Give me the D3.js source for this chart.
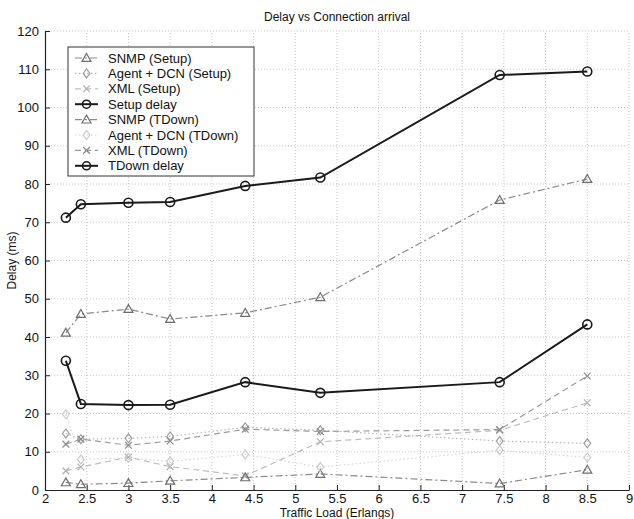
<!DOCTYPE html>
<html>
<head>
<meta charset="utf-8">
<script src="https://cdn.jsdelivr.net/npm/d3@7"></script>
<style>
  body { margin: 0; background: #fff; }
  text { font-family: "Liberation Sans", Arial, sans-serif; fill: #111; }
</style>
</head>
<body>
<svg width="634" height="519"></svg>
<script>
const svg = d3.select("svg");

// data
const loads = [2.25, 2.43, 3, 3.5, 4.4, 5.3, 7.45, 8.5];
const snmpSetup = [41.1, 46.0, 47.3, 44.7, 46.3, 50.4, 75.8, 81.3];
const agentSetup = [14.8, 13.3, 13.5, 14.0, 16.4, 15.6, 12.8, 12.2];
const xmlSetup = [5.0, 6.0, 8.6, 6.1, 3.7, 12.6, 15.6, 22.8];
const setupDelay = [71.2, 74.7, 75.1, 75.3, 79.5, 81.7, 108.5, 109.4];
const snmpTDown = [2.0, 1.5, 1.8, 2.4, 3.3, 4.2, 1.7, 5.3];
const agentTDown = [19.8, 8.0, 8.4, 7.5, 9.3, 6.0, 10.4, 8.5];
const xmlTDown = [12.0, 13.3, 11.7, 12.8, 15.9, 15.3, 15.8, 29.8];
const tdownDelay = [33.8, 22.5, 22.2, 22.3, 28.2, 25.4, 28.2, 43.3];

const xTicks = [2, 2.5, 3, 3.5, 4, 4.5, 5, 5.5, 6, 6.5, 7, 7.5, 8, 8.5, 9];
const yTicks = [0, 10, 20, 30, 40, 50, 60, 70, 80, 90, 100, 110, 120];

const series = [
  { name: "SNMP (Setup)", values: snmpSetup, color: "#8a8a8a", mcolor: "#6e6e6e", dash: "7,3,2,3", width: 1.2, marker: "triangle" },
  { name: "Agent + DCN (Setup)", values: agentSetup, color: "#b8b8b8", mcolor: "#a0a0a0", dash: "1.5,2.5", width: 1.2, marker: "diamond" },
  { name: "XML (Setup)", values: xmlSetup, color: "#bdbdbd", mcolor: "#b0b0b0", dash: "6,4", width: 1.2, marker: "x" },
  { name: "Setup delay", values: setupDelay, color: "#1a1a1a", mcolor: "#1a1a1a", dash: null, width: 2, marker: "circle" },
  { name: "SNMP (TDown)", values: snmpTDown, color: "#8a8a8a", mcolor: "#6e6e6e", dash: "7,3,2,3", width: 1.2, marker: "triangle" },
  { name: "Agent + DCN (TDown)", values: agentTDown, color: "#d6d6d6", mcolor: "#cccccc", dash: "1.5,2.5", width: 1.2, marker: "diamond" },
  { name: "XML (TDown)", values: xmlTDown, color: "#9a9a9a", mcolor: "#8a8a8a", dash: "6,4", width: 1.2, marker: "x" },
  { name: "TDown delay", values: tdownDelay, color: "#1a1a1a", mcolor: "#1a1a1a", dash: null, width: 2, marker: "circle" }
];

const x = d3.scaleLinear().domain([2, 9]).range([45, 629]);
const y = d3.scaleLinear().domain([0, 120]).range([490, 31]);

// grid
const grid = svg.append("g").attr("stroke", "#c8c8c8").attr("stroke-dasharray", "1,2").attr("stroke-width", 1);
grid.selectAll(".gx").data(xTicks.slice(1)).join("line")
  .attr("x1", d => x(d)).attr("x2", d => x(d)).attr("y1", y(0)).attr("y2", y(120));
grid.selectAll(".gy").data(yTicks.slice(1)).join("line")
  .attr("x1", x(2)).attr("x2", x(9)).attr("y1", d => y(d)).attr("y2", d => y(d));

// axes (ticks inside)
const xAxis = svg.append("g").attr("transform", `translate(0,${y(0)})`)
  .call(d3.axisBottom(x).tickValues(xTicks).tickSizeInner(-5).tickSizeOuter(0).tickPadding(4).tickFormat(d3.format("")));
const yAxis = svg.append("g").attr("transform", `translate(${x(2)},0)`)
  .call(d3.axisLeft(y).tickValues(yTicks).tickSizeInner(-5).tickSizeOuter(0).tickPadding(6));
[xAxis, yAxis].forEach(a => {
  a.select(".domain").attr("stroke", "#222").attr("stroke-width", 1.2);
  a.selectAll(".tick line").attr("stroke", "#222");
  a.selectAll("text").attr("font-size", 13).attr("fill", "#111")
    .attr("font-family", "'Liberation Sans', Arial, sans-serif");
});

// titles
svg.append("text").attr("x", 337).attr("y", 21).attr("text-anchor", "middle")
  .attr("font-size", 12).text("Delay vs Connection arrival");
svg.append("text").attr("x", 337).attr("y", 517).attr("text-anchor", "middle")
  .attr("font-size", 12).text("Traffic Load (Erlangs)");
svg.append("text").attr("transform", `translate(16,${y(60)}) rotate(-90)`)
  .attr("text-anchor", "middle").attr("font-size", 12).text("Delay (ms)");

function drawMarker(g, type, cx, cy, color, size) {
  const s = size || 4.5;
  if (type === "circle") {
    g.append("circle").attr("cx", cx).attr("cy", cy).attr("r", s)
      .attr("fill", "none").attr("stroke", color).attr("stroke-width", 1.6);
  } else if (type === "triangle") {
    g.append("path").attr("d", `M${cx},${cy - s}L${cx + s},${cy + s * 0.75}L${cx - s},${cy + s * 0.75}Z`)
      .attr("fill", "none").attr("stroke", color).attr("stroke-width", 1.2);
  } else if (type === "diamond") {
    g.append("path").attr("d", `M${cx},${cy - s}L${cx + s * 0.75},${cy}L${cx},${cy + s}L${cx - s * 0.75},${cy}Z`)
      .attr("fill", "none").attr("stroke", color).attr("stroke-width", 1.2);
  } else if (type === "x") {
    const k = s * 0.75;
    g.append("path").attr("d", `M${cx - k},${cy - k}L${cx + k},${cy + k}M${cx - k},${cy + k}L${cx + k},${cy - k}`)
      .attr("fill", "none").attr("stroke", color).attr("stroke-width", 1.2);
  }
}

const line = d3.line().x((d, i) => x(loads[i])).y(d => y(d));

series.forEach(s => {
  const g = svg.append("g");
  g.append("path").datum(s.values)
    .attr("fill", "none").attr("stroke", s.color).attr("stroke-width", s.width)
    .attr("stroke-dasharray", s.dash).attr("d", line);
  s.values.forEach((v, i) => drawMarker(g, s.marker, x(loads[i]), y(v), s.mcolor));
});

// legend
const lg = svg.append("g");
lg.append("rect").attr("x", 68).attr("y", 47).attr("width", 186).attr("height", 129)
  .attr("fill", "#fff").attr("stroke", "#333").attr("stroke-width", 1);
series.forEach((s, i) => {
  const cy = 58 + i * 15.4;
  lg.append("line").attr("x1", 75).attr("x2", 98).attr("y1", cy).attr("y2", cy)
    .attr("stroke", s.color).attr("stroke-width", s.width).attr("stroke-dasharray", s.dash);
  drawMarker(lg, s.marker, 86.5, cy, s.mcolor, s.marker === "circle" ? 4 : 4.5);
  lg.append("text").attr("x", 108).attr("y", cy + 4.5).attr("font-size", 13).text(s.name);
});
</script>
</body>
</html>
